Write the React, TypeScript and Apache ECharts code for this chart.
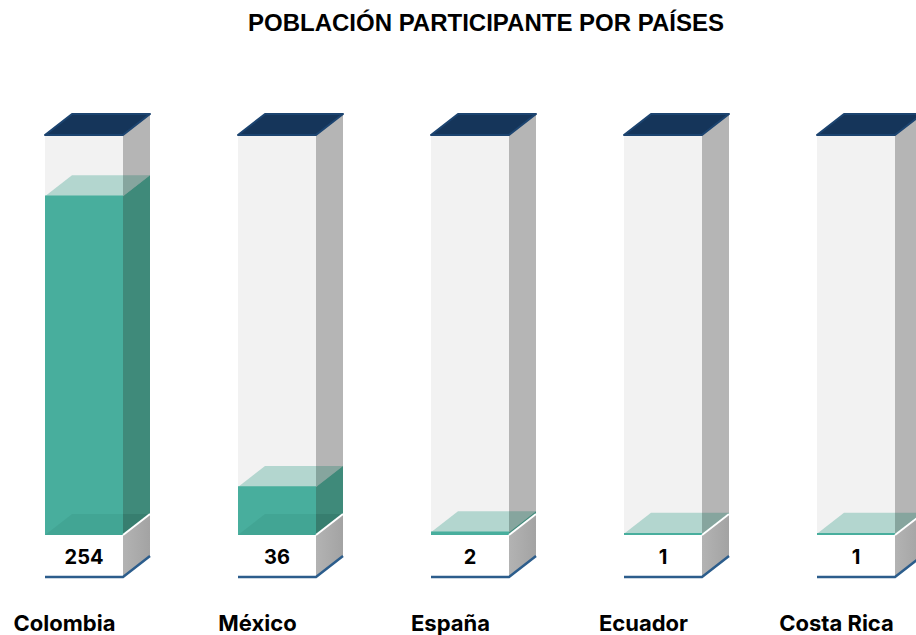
import React, { useEffect, useRef } from "react";
import * as echarts from "echarts";

const title = "POBLACIÓN PARTICIPANTE POR PAÍSES";
const categories = ["Colombia", "México", "España", "Ecuador", "Costa Rica"];
const values = [254, 36, 2, 1, 1];
const axisMax = 300;

export default function App() {
  const ref = useRef<HTMLDivElement>(null);
  useEffect(() => {
    if (!ref.current) return;
    const chart = echarts.init(ref.current, undefined, { renderer: "svg" });
    const HW = 39;
    const DX = 27;
    const DY = -21;
    const BASE_H = 42;
    const option: any = {
      animation: false,
      backgroundColor: "#ffffff",
      graphic: [
        {
          type: "text",
          style: {
            text: title,
            x: 486,
            y: 22,
            align: "center",
            verticalAlign: "middle",
            fontSize: 24,
            fontWeight: "bold",
            fontFamily: "Liberation Sans, Arial, sans-serif",
            fill: "#000000",
          },
        },
      ],
      grid: { left: 84, right: 60, top: 135, bottom: 100 },
      xAxis: { type: "value", min: 0, max: categories.length - 1, show: false },
      yAxis: { type: "value", min: 0, max: axisMax, show: false },
      series: [
        {
          type: "custom",
          data: values.map((v, i) => [i, v]),
          renderItem: (params: any, api: any) => {
            const i = api.value(0);
            const v = api.value(1);
            const p0 = api.coord([i, 0]);
            const cx = p0[0];
            const y0 = p0[1];
            const yTop = api.coord([i, axisMax])[1];
            const yv = api.coord([i, v])[1];
            const L = cx - HW;
            const R = cx + HW;
            const children: any[] = [];
            children.push({ type: "rect", shape: { x: L, y: yTop, width: R - L, height: y0 - yTop }, style: { fill: "#f2f2f2" } });
            children.push({
              type: "polygon",
              shape: { points: [[R, yTop], [R + DX, yTop + DY], [R + DX, y0 + DY], [R, y0]] },
              style: { fill: "#b5b5b5" },
            });
            children.push({
              type: "polygon",
              shape: { points: [[L, yv], [L + DX, yv + DY], [R, yv + DY], [R, yv]] },
              style: { fill: "#b3d6cf" },
            });
            children.push({
              type: "polygon",
              shape: { points: [[R, yv], [R, yv + DY], [R + DX, yv + DY]] },
              style: { fill: "#86a59e" },
            });
            children.push({
              type: "polygon",
              shape: { points: [[R, yv], [R + DX, yv + DY], [R + DX, y0 + DY], [R, y0]] },
              style: { fill: "#3f8a7a" },
            });
            children.push({ type: "rect", shape: { x: L, y: yv, width: R - L, height: y0 - yv }, style: { fill: "#48ae9d" } });
            if (y0 - yv > -DY) {
              children.push({
                type: "polygon",
                shape: { points: [[L, y0], [L + DX, y0 + DY], [R, y0 + DY], [R, y0]] },
                style: { fill: "rgba(0,60,50,0.08)" },
              });
              children.push({
                type: "polygon",
                shape: { points: [[R, y0], [R, y0 + DY], [R + DX, y0 + DY]] },
                style: { fill: "rgba(0,40,30,0.12)" },
              });
            }
            children.push({ type: "line", shape: { x1: L, y1: yv, x2: R, y2: yv }, style: { stroke: "#48ae9d", lineWidth: 1.5 } });
            children.push({
              type: "polygon",
              shape: { points: [[L, yTop], [L + DX, yTop + DY], [R + DX, yTop + DY], [R, yTop]] },
              style: { fill: "#15355a", stroke: "#1c4470", lineWidth: 2, lineJoin: "round" },
            });
            children.push({ type: "rect", shape: { x: L, y: y0, width: R - L, height: BASE_H }, style: { fill: "#ffffff" } });
            children.push({
              type: "polygon",
              shape: { points: [[R, y0], [R + DX, y0 + DY], [R + DX, y0 + BASE_H + DY], [R, y0 + BASE_H]] },
              style: {
                fill: new echarts.graphic.LinearGradient(0, 0, 1, 0, [
                  { offset: 0, color: "#b3b3b3" },
                  { offset: 1, color: "#a3a3a3" },
                ]),
              },
            });
            children.push({ type: "line", shape: { x1: R, y1: y0, x2: R + DX, y2: y0 + DY }, style: { stroke: "#ffffff", lineWidth: 2 } });
            children.push({
              type: "polyline",
              shape: { points: [[L, y0 + BASE_H], [R, y0 + BASE_H], [R + DX, y0 + BASE_H + DY]] },
              style: { stroke: "#2c5d8c", lineWidth: 2.5, fill: "none" },
            });
            children.push({
              type: "text",
              style: {
                text: String(v),
                x: cx,
                y: y0 + BASE_H / 2 + 1,
                align: "center",
                verticalAlign: "middle",
                fontSize: 20,
                fontWeight: "bold",
                fontFamily: "Inter, Liberation Sans, sans-serif",
                fill: "#000000",
              },
            });
            children.push({
              type: "text",
              style: {
                text: categories[i],
                x: cx - 19.5,
                y: 623,
                align: "center",
                verticalAlign: "middle",
                fontSize: 22,
                fontWeight: "bold",
                fontFamily: "Inter, Liberation Sans, sans-serif",
                fill: "#000000",
              },
            });
            return { type: "group", children };
          },
        },
      ],
    };
    chart.setOption(option);
    return () => chart.dispose();
  }, []);
  return (
    <div
      ref={ref}
      style={{ position: "fixed", left: 0, top: 0, width: 916, height: 635 }}
    />
  );
}
